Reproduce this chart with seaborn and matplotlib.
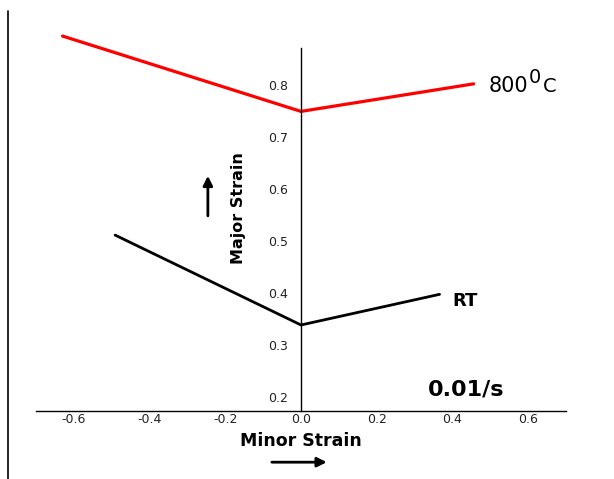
import pandas as pd
import matplotlib.pyplot as plt
import seaborn as sns
from matplotlib.lines import Line2D

# Dados (curvas limite de conformação, 0.01/s)
minor_800 = [-0.63, 0.0, 0.456]
major_800 = [0.894, 0.749, 0.802]
minor_rt = [-0.491, 0.0, 0.366]
major_rt = [0.511, 0.338, 0.397]
x_ticks = [-0.6, -0.4, -0.2, 0.0, 0.2, 0.4, 0.6]
y_ticks = [0.2, 0.3, 0.4, 0.5, 0.6, 0.7, 0.8]

sns.set_style("white")
plt.rcParams['font.family'] = ['DejaVu Sans']
plt.rcParams['text.color'] = 'black'

df = pd.DataFrame({
    'Minor Strain': minor_800 + minor_rt,
    'Major Strain': major_800 + major_rt,
    'Cond': ['800'] * len(minor_800) + ['RT'] * len(minor_rt),
})

fig = plt.figure(figsize=(6.14, 4.79), dpi=100)
ax = fig.add_axes([36 / 614, 68 / 479, 530 / 614, 363 / 479])

sns.lineplot(data=df[df['Cond'] == '800'], x='Minor Strain', y='Major Strain',
             color='#ff0000', linewidth=2.3, sort=False, estimator=None,
             ax=ax, clip_on=False)
sns.lineplot(data=df[df['Cond'] == 'RT'], x='Minor Strain', y='Major Strain',
             color='black', linewidth=2.0, sort=False, estimator=None,
             ax=ax, clip_on=False)

ax.set_xlim(-0.7, 0.7)
ax.set_ylim(0.1725, 0.871)
ax.set_xticks(x_ticks)
ax.set_yticks(y_ticks)
ax.set_xticklabels([f'{v:.1f}' for v in x_ticks])
ax.set_yticklabels([f'{v:.1f}' for v in y_ticks])
ax.tick_params(axis='x', length=0, pad=1.5, labelsize=9, labelcolor='#222222')
ax.tick_params(axis='y', length=0, pad=9.4, labelsize=9, labelcolor='#222222')

# eixos cruzando no zero
ax.spines['left'].set_position(('data', 0))
ax.spines['top'].set_visible(False)
ax.spines['right'].set_visible(False)
for s in ['left', 'bottom']:
    ax.spines[s].set_color('black')
    ax.spines[s].set_linewidth(1.0)
ax.set_xlabel('')
ax.set_ylabel('')
ax.grid(False)

# rótulos
ax.text(-0.166, 0.563, 'Major Strain', rotation=90, ha='center', va='center',
        fontsize=11.5, fontweight='bold', color='black')
ax.text(0.0, 0.115, 'Minor Strain', ha='center', va='center',
        fontsize=12.5, fontweight='bold', color='black', clip_on=False)
# 800 ºC com o "0" sobrescrito quase do mesmo tamanho
ax.text(0.495, 0.787, '800', ha='left', va='baseline', fontsize=15, color='black')
ax.text(0.601, 0.804, '0', ha='left', va='baseline', fontsize=14, color='black')
ax.text(0.638, 0.787, 'C', ha='left', va='baseline', fontsize=14, color='black')
ax.text(0.40, 0.374, 'RT', ha='left', va='baseline', fontsize=13,
        fontweight='bold', color='black')
ax.text(0.334, 0.203, '0.01/s', ha='left', va='baseline', fontsize=16,
        fontweight='bold', color='black')

# setas
ax.annotate('', xy=(-0.246, 0.625), xytext=(-0.246, 0.548),
            arrowprops=dict(arrowstyle='-|>', color='black', lw=2,
                            mutation_scale=14, shrinkA=0, shrinkB=0),
            annotation_clip=False)
ax.annotate('', xy=(0.068, 0.074), xytext=(-0.077, 0.074),
            arrowprops=dict(arrowstyle='-|>', color='black', lw=2,
                            mutation_scale=14, shrinkA=0, shrinkB=0),
            annotation_clip=False)

# linha de borda à esquerda
fig.add_artist(Line2D([7.5 / 614, 7.5 / 614], [0, 468 / 479],
                      transform=fig.transFigure, color='black', lw=1.2))

fig.savefig('out.png', dpi=100)
